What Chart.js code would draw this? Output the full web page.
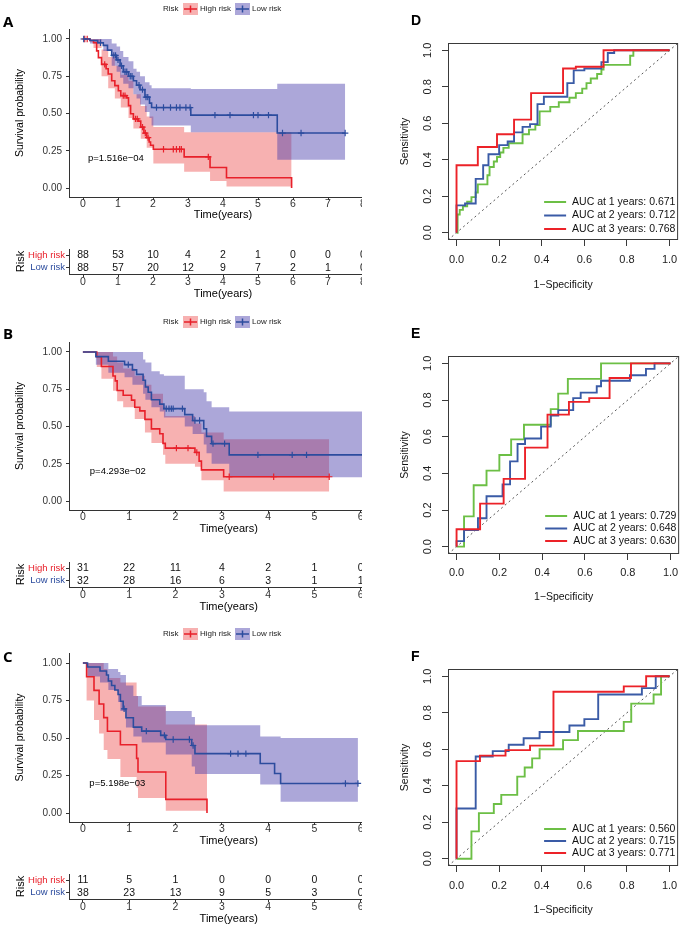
<!DOCTYPE html>
<html>
<head>
<meta charset="utf-8">
<script src="https://cdn.jsdelivr.net/npm/chart.js@4/dist/chart.umd.min.js"></script>
<style>
  body { margin: 0; background: #fff; width: 685px; height: 927px; position: relative; overflow: hidden; }
  .clip { position: absolute; left: 0; width: 362px; overflow: hidden; }
  .roc { position: absolute; left: 390px; }
  canvas { display: block; }
  .tag { position: absolute; font-weight: bold; color: #000; line-height: 1; }
  .tag.km { font: bold 15px 'Open Sans', 'DejaVu Sans', sans-serif; }
  .tag.rc { font: bold 14px 'Liberation Sans', Arial, sans-serif; }
</style>
</head>
<body>
<div class="clip" style="top:0;height:222px"><canvas id="kmA" width="400" height="222"></canvas></div>
<div class="clip" style="top:240px;height:61px"><canvas id="riskA" width="400" height="61"></canvas></div>
<div class="clip" style="top:310px;height:226px"><canvas id="kmB" width="400" height="226"></canvas></div>
<div class="clip" style="top:555px;height:59px"><canvas id="riskB" width="400" height="59"></canvas></div>
<div class="clip" style="top:620px;height:228px"><canvas id="kmC" width="400" height="228"></canvas></div>
<div class="clip" style="top:865px;height:61px"><canvas id="riskC" width="400" height="61"></canvas></div>
<div class="roc" style="top:0"><canvas id="rocD" width="295" height="300"></canvas></div>
<div class="roc" style="top:300px"><canvas id="rocE" width="295" height="310"></canvas></div>
<div class="roc" style="top:610px"><canvas id="rocF" width="295" height="317"></canvas></div>

<div class="tag km" style="left:3px;top:11px">A</div>
<div class="tag km" style="left:3px;top:323px">B</div>
<div class="tag km" style="left:3px;top:646px">C</div>
<div class="tag rc" style="left:411px;top:12px">D</div>
<div class="tag rc" style="left:411px;top:325px">E</div>
<div class="tag rc" style="left:411px;top:648px">F</div>

<script>
// ---- KM panel A ----
const A_HIGH_T = [0, 0.2, 0.3, 0.39, 0.44, 0.53, 0.66, 0.72, 0.82, 0.91, 1.01, 1.08, 1.25, 1.3, 1.36, 1.44, 1.58, 1.65, 1.74, 1.82, 1.89, 1.93, 2.01, 2.89, 3.63, 4.1, 5.96];
const A_HIGH_S = [1, 0.99, 0.975, 0.92, 0.875, 0.83, 0.8, 0.765, 0.72, 0.687, 0.653, 0.62, 0.605, 0.553, 0.498, 0.464, 0.449, 0.409, 0.369, 0.338, 0.309, 0.287, 0.26, 0.209, 0.138, 0.069, 0];
const A_HIGH_CENS = [0.05, 0.12, 0.62, 1.15, 1.2, 1.5, 1.55, 1.7, 1.78, 1.86, 2.3, 2.58, 2.67, 2.76, 2.81, 3.58];
const A_HIGH_BT = [0, 0.3, 0.53, 0.72, 0.91, 1.08, 1.3, 1.44, 1.65, 1.82, 2.01, 2.89, 3.63, 4.1, 5.96];
const A_HIGH_UP = [1, 1, 0.93, 0.88, 0.82, 0.76, 0.72, 0.63, 0.55, 0.48, 0.41, 0.375, 0.375, 0.375, 0.375];
const A_HIGH_LO = [1, 0.94, 0.75, 0.67, 0.6, 0.54, 0.47, 0.4, 0.33, 0.27, 0.165, 0.11, 0.047, 0.01, 0.01];

const A_LOW_T = [0, 0.2, 0.42, 0.58, 0.7, 0.82, 0.96, 1.06, 1.15, 1.3, 1.44, 1.53, 1.63, 1.77, 1.9, 1.96, 3.08, 5.55, 7.49];
const A_LOW_S = [1, 0.99, 0.975, 0.957, 0.925, 0.89, 0.86, 0.82, 0.78, 0.75, 0.72, 0.69, 0.66, 0.61, 0.57, 0.54, 0.489, 0.369, 0.369];
const A_LOW_CENS = [0.02, 0.5, 0.88, 0.93, 1.0, 1.1, 1.2, 1.25, 1.35, 1.4, 1.6, 1.7, 1.8, 1.85, 2.1, 2.3, 2.5, 2.67, 2.77, 2.94, 3.06, 3.77, 4.2, 4.87, 5.0, 5.3, 5.7, 6.23, 7.49];
const A_LOW_BT = [0, 0.2, 0.58, 0.82, 0.96, 1.06, 1.15, 1.3, 1.44, 1.53, 1.63, 1.77, 1.9, 1.96, 3.08, 5.55, 7.49];
const A_LOW_UP = [1, 1, 1, 0.97, 0.95, 0.92, 0.88, 0.85, 0.8, 0.78, 0.75, 0.71, 0.69, 0.67, 0.665, 0.7, 0.7];
const A_LOW_LO = [1, 0.97, 0.92, 0.82, 0.78, 0.74, 0.7, 0.67, 0.63, 0.6, 0.56, 0.51, 0.47, 0.42, 0.375, 0.19, 0.19];

// ---- KM panel B ----
const B_HIGH_T = [0, 0.3, 0.4, 0.65, 0.7, 0.74, 0.87, 1.05, 1.12, 1.23, 1.34, 1.48, 1.66, 1.73, 1.78, 2.42, 2.51, 2.56, 3.04, 5.32];
const B_HIGH_S = [1, 0.968, 0.903, 0.839, 0.806, 0.742, 0.71, 0.677, 0.629, 0.605, 0.548, 0.484, 0.452, 0.387, 0.355, 0.326, 0.268, 0.209, 0.163, 0.163];
const B_HIGH_CENS = [2.02, 2.27, 2.46, 3.16, 4.12, 5.32];
const B_HIGH_BT = [0, 0.3, 0.4, 0.65, 0.74, 0.87, 1.12, 1.34, 1.48, 1.73, 1.78, 2.42, 2.56, 3.04, 5.32];
const B_HIGH_UP = [1, 1, 1, 0.97, 0.93, 0.89, 0.84, 0.78, 0.72, 0.63, 0.57, 0.52, 0.46, 0.415, 0.415];
const B_HIGH_LO = [1, 0.9, 0.82, 0.74, 0.67, 0.63, 0.55, 0.46, 0.39, 0.31, 0.25, 0.23, 0.14, 0.064, 0.064];

const B_LOW_T = [0, 0.28, 0.55, 0.9, 1.07, 1.16, 1.3, 1.35, 1.41, 1.48, 1.66, 1.75, 2.2, 2.37, 2.61, 2.67, 2.78, 3.16, 6.4];
const B_LOW_S = [1, 0.969, 0.938, 0.915, 0.88, 0.85, 0.81, 0.765, 0.73, 0.68, 0.65, 0.62, 0.58, 0.54, 0.485, 0.434, 0.385, 0.31, 0.31];
const B_LOW_CENS = [0.98, 1.8, 1.86, 1.91, 1.95, 2.15, 2.42, 2.52, 2.81, 3.06, 3.78, 4.52, 4.83];
const B_LOW_BT = [0, 0.28, 0.55, 0.9, 1.07, 1.3, 1.35, 1.48, 1.66, 1.75, 2.2, 2.37, 2.61, 2.67, 2.78, 3.16, 6.4];
const B_LOW_UP = [1, 1, 1, 1, 1, 0.95, 0.93, 0.87, 0.85, 0.84, 0.75, 0.75, 0.73, 0.67, 0.63, 0.6, 0.6];
const B_LOW_LO = [1, 0.915, 0.86, 0.83, 0.78, 0.72, 0.68, 0.63, 0.6, 0.56, 0.5, 0.45, 0.38, 0.32, 0.25, 0.16, 0.16];

// ---- KM panel C ----
const C_HIGH_T = [0, 0.08, 0.24, 0.35, 0.45, 0.53, 0.81, 1.16, 1.19, 1.79, 2.68];
const C_HIGH_S = [1, 0.909, 0.818, 0.727, 0.636, 0.545, 0.455, 0.364, 0.273, 0.091, 0];
const C_HIGH_CENS = [];
const C_HIGH_BT = [0, 0.08, 0.24, 0.35, 0.45, 0.53, 0.81, 1.16, 1.19, 1.79, 2.68];
const C_HIGH_UP = [1, 1, 1, 1, 0.96, 0.9, 0.87, 0.78, 0.71, 0.59, 0.59];
const C_HIGH_LO = [1, 0.75, 0.62, 0.53, 0.42, 0.36, 0.24, 0.17, 0.1, 0.015, 0.015];

const C_LOW_T = [0, 0.1, 0.37, 0.51, 0.55, 0.62, 0.69, 0.76, 0.81, 0.87, 0.93, 1.09, 1.27, 1.68, 1.79, 2.35, 2.42, 3.83, 4.14, 4.27, 5.94];
const C_LOW_S = [1, 0.974, 0.947, 0.92, 0.88, 0.85, 0.82, 0.79, 0.745, 0.695, 0.635, 0.573, 0.546, 0.518, 0.49, 0.45, 0.396, 0.33, 0.263, 0.197, 0.197];
const C_LOW_CENS = [0.89, 1.37, 1.76, 1.95, 2.3, 2.38, 3.19, 3.35, 3.52, 5.67, 5.94];
const C_LOW_BT = [0, 0.1, 0.37, 0.55, 0.76, 0.81, 0.93, 1.09, 1.27, 1.79, 2.35, 2.42, 3.83, 4.27, 5.94];
const C_LOW_UP = [1, 1, 1, 0.96, 0.94, 0.92, 0.85, 0.78, 0.72, 0.68, 0.64, 0.585, 0.51, 0.5, 0.5];
const C_LOW_LO = [1, 0.91, 0.87, 0.82, 0.74, 0.68, 0.57, 0.51, 0.47, 0.39, 0.31, 0.26, 0.19, 0.075, 0.075];

// ---- number at risk ----
const RISK_ROWS = ['High risk', 'Low risk'];
const A_TICKS = [0, 1, 2, 3, 4, 5, 6, 7, 8];
const A_RISK_HIGH = [88, 53, 10, 4, 2, 1, 0, 0, 0];
const A_RISK_LOW = [88, 57, 20, 12, 9, 7, 2, 1, 0];
const BC_TICKS = [0, 1, 2, 3, 4, 5, 6];
const B_RISK_HIGH = [31, 22, 11, 4, 2, 1, 0];
const B_RISK_LOW = [32, 28, 16, 6, 3, 1, 1];
const C_RISK_HIGH = [11, 5, 1, 0, 0, 0, 0];
const C_RISK_LOW = [38, 23, 13, 9, 5, 3, 0];
const SURV_TICKS = [0, 0.25, 0.5, 0.75, 1];

// ---- ROC curves (1-specificity, sensitivity) ----
const D_FPR_1 = [0, 0.005, 0.015, 0.03, 0.05, 0.07, 0.09, 0.1, 0.145, 0.155, 0.175, 0.19, 0.205, 0.22, 0.245, 0.31, 0.34, 0.37, 0.39, 0.44, 0.48, 0.53, 0.56, 0.59, 0.61, 0.63, 0.66, 0.68, 0.69, 0.815, 0.83, 1];
const D_TPR_1 = [0, 0.1, 0.125, 0.145, 0.17, 0.195, 0.22, 0.265, 0.315, 0.36, 0.39, 0.415, 0.44, 0.465, 0.49, 0.54, 0.565, 0.59, 0.665, 0.69, 0.715, 0.74, 0.765, 0.79, 0.82, 0.845, 0.87, 0.895, 0.92, 0.97, 1, 1];
const D_FPR_2 = [0, 0, 0.04, 0.09, 0.125, 0.15, 0.2, 0.24, 0.27, 0.31, 0.345, 0.38, 0.41, 0.52, 0.55, 0.6, 0.68, 0.71, 0.74, 1];
const D_TPR_2 = [0, 0.15, 0.16, 0.295, 0.37, 0.43, 0.48, 0.5, 0.55, 0.58, 0.595, 0.705, 0.745, 0.82, 0.89, 0.9, 0.935, 0.985, 1, 1];
const D_FPR_3 = [0, 0, 0.1, 0.19, 0.27, 0.35, 0.5, 0.56, 0.69, 1];
const D_TPR_3 = [0, 0.37, 0.47, 0.54, 0.62, 0.765, 0.9, 0.91, 1, 1];
const D_AUC = ['AUC at 1 years: 0.671', 'AUC at 2 years: 0.712', 'AUC at 3 years: 0.768'];

const E_FPR_1 = [0, 0.035, 0.08, 0.14, 0.2, 0.255, 0.315, 0.44, 0.475, 0.52, 0.675, 1];
const E_TPR_1 = [0, 0.165, 0.335, 0.415, 0.5, 0.585, 0.665, 0.75, 0.835, 0.915, 1, 1];
const E_FPR_2 = [0, 0, 0.035, 0.1, 0.14, 0.215, 0.25, 0.285, 0.32, 0.395, 0.44, 0.475, 0.545, 0.58, 0.655, 0.675, 0.81, 0.885, 0.925, 1];
const E_TPR_2 = [0, 0.03, 0.09, 0.155, 0.275, 0.34, 0.465, 0.56, 0.59, 0.655, 0.715, 0.745, 0.81, 0.84, 0.875, 0.905, 0.935, 0.97, 1, 1];
const E_FPR_3 = [0, 0, 0.11, 0.22, 0.32, 0.425, 0.525, 0.62, 0.715, 0.815, 1];
const E_TPR_3 = [0, 0.095, 0.235, 0.37, 0.54, 0.72, 0.79, 0.81, 0.92, 1, 1];
const E_AUC = ['AUC at 1 years: 0.729', 'AUC at 2 years: 0.648', 'AUC at 3 years: 0.630'];

const F_FPR_1 = [0, 0.07, 0.105, 0.175, 0.21, 0.285, 0.32, 0.355, 0.39, 0.5, 0.57, 0.785, 0.82, 0.925, 0.96, 1];
const F_TPR_1 = [0, 0.15, 0.25, 0.3, 0.35, 0.45, 0.5, 0.55, 0.6, 0.65, 0.7, 0.75, 0.85, 0.9, 1, 1];
const F_FPR_2 = [0, 0, 0.09, 0.17, 0.245, 0.315, 0.39, 0.53, 0.6, 0.665, 0.87, 0.935, 1];
const F_TPR_2 = [0, 0.275, 0.56, 0.59, 0.625, 0.66, 0.695, 0.73, 0.765, 0.9, 0.935, 1, 1];
const F_FPR_3 = [0, 0, 0.11, 0.23, 0.345, 0.455, 0.785, 0.89, 1];
const F_TPR_3 = [0, 0.535, 0.565, 0.595, 0.62, 0.915, 0.945, 1, 1];
const F_AUC = ['AUC at 1 years: 0.560', 'AUC at 2 years: 0.715', 'AUC at 3 years: 0.771'];
const ROC_TICKS = [0, 0.2, 0.4, 0.6, 0.8, 1];

const RED = '#e8202a';
const BLUE = '#2c4c9e';
const RED_BAND = 'rgba(232, 40, 40, 0.36)';
const BLUE_BAND = 'rgba(70, 60, 170, 0.45)';
const ROC_COLORS = ['#6cbf45', '#3a5ba6', '#ec2228'];
const FONT = "'Liberation Sans', Arial, sans-serif";

Chart.defaults.font.family = FONT;
Chart.defaults.color = '#222';

const pts = (xs, ys) => xs.map((x, i) => ({ x, y: ys[i] }));
function stepAt(ts, ss, t) {
  let v = ss[0];
  for (let i = 0; i < ts.length; i++) if (ts[i] <= t) v = ss[i];
  return v;
}

const kmDecor = {
  id: 'kmDecor',
  afterDraw(chart, args, o) {
    const { ctx, scales: { x, y } } = chart;
    ctx.save();
    ctx.fillStyle = '#000';
    ctx.textBaseline = 'middle';
    ctx.font = '9.5px ' + FONT;
    ctx.fillText(o.pText, x.getPixelForValue(o.pX), y.getPixelForValue(o.pY));
    // legend
    const ly = o.legendY;
    ctx.font = '8px ' + FONT;
    ctx.fillStyle = '#222';
    ctx.fillText('Risk', 163, ly);
    const keys = [[183, RED_BAND, RED, 'High risk'], [235, BLUE_BAND, BLUE, 'Low risk']];
    keys.forEach(([kx, band, line, label]) => {
      ctx.fillStyle = band;
      ctx.fillRect(kx, ly - 6, 15, 12);
      ctx.strokeStyle = line;
      ctx.lineWidth = 1.5;
      ctx.beginPath();
      ctx.moveTo(kx + 1, ly); ctx.lineTo(kx + 14, ly);
      ctx.moveTo(kx + 7.5, ly - 3.5); ctx.lineTo(kx + 7.5, ly + 3.5);
      ctx.stroke();
      ctx.fillStyle = '#222';
      ctx.fillText(label, kx + 17, ly);
    });
    ctx.restore();
  }
};

function axisCommon() {
  return {
    grid: { display: true, drawOnChartArea: false, drawTicks: true, tickLength: 3, tickColor: '#333' },
    border: { display: true, color: '#333', width: 1 }
  };
}

function drawKM(id, o) {
  const datasets = [
    { data: pts(o.lowT, o.lowS), stepped: true, borderColor: BLUE, borderWidth: 1.6, pointRadius: 0, fill: false, order: 0 },
    { data: o.lowCens.map(t => ({ x: t, y: stepAt(o.lowT, o.lowS, t) })), showLine: false, pointStyle: 'cross', pointRadius: 3.2, borderColor: BLUE, borderWidth: 1.2, order: 0 },
    { data: pts(o.highT, o.highS), stepped: true, borderColor: RED, borderWidth: 1.6, pointRadius: 0, fill: false, order: 1 },
    { data: o.highCens.map(t => ({ x: t, y: stepAt(o.highT, o.highS, t) })), showLine: false, pointStyle: 'cross', pointRadius: 3.2, borderColor: RED, borderWidth: 1.2, order: 1 },
    { data: pts(o.lowBT, o.lowUp), stepped: true, borderWidth: 0, borderColor: 'transparent', pointRadius: 0, fill: false, order: 2 },
    { data: pts(o.lowBT, o.lowLo), stepped: true, borderWidth: 0, borderColor: 'transparent', pointRadius: 0, fill: '-1', backgroundColor: BLUE_BAND, order: 2 },
    { data: pts(o.highBT, o.highUp), stepped: true, borderWidth: 0, borderColor: 'transparent', pointRadius: 0, fill: false, order: 3 },
    { data: pts(o.highBT, o.highLo), stepped: true, borderWidth: 0, borderColor: 'transparent', pointRadius: 0, fill: '-1', backgroundColor: RED_BAND, order: 3 }
  ];
  new Chart(document.getElementById(id), {
    type: 'line',
    data: { datasets },
    plugins: [kmDecor],
    options: {
      responsive: false,
      animation: false,
      layout: { padding: { top: o.padTop, right: o.padRight, left: 0, bottom: 0 } },
      plugins: {
        legend: { display: false },
        tooltip: { enabled: false },
        kmDecor: { pText: o.pText, pX: o.pX, pY: 0.2, legendY: o.legendY }
      },
      scales: {
        x: {
          type: 'linear', min: o.xMin, max: o.xMax,
          afterBuildTicks: s => { s.ticks = o.ticks.map(v => ({ value: v })); },
          afterFit: s => { s.height = o.xH; },
          ticks: { font: { size: 10.5, lineHeight: 1 }, color: '#333', padding: -1.5, maxRotation: 0, autoSkip: false },
          title: { display: true, text: 'Time(years)', font: { size: 11 }, color: '#000', padding: 0 },
          ...axisCommon()
        },
        y: {
          type: 'linear', min: -0.06, max: 1.067,
          afterBuildTicks: s => { s.ticks = SURV_TICKS.map(v => ({ value: v })); },
          afterFit: s => { s.width = 69; },
          ticks: { font: { size: 10 }, color: '#333', padding: 4, autoSkip: false, callback: v => v.toFixed(2) },
          title: { display: true, text: 'Survival probability', font: { size: 10.5 }, color: '#000', padding: { top: 14, bottom: 0 } },
          ...axisCommon()
        }
      }
    }
  });
}

const riskNumbers = {
  id: 'riskNumbers',
  afterDraw(chart, args, o) {
    const { ctx, scales: { x, y } } = chart;
    ctx.save();
    ctx.font = '10.5px ' + FONT;
    ctx.fillStyle = '#111';
    ctx.textAlign = 'center';
    ctx.textBaseline = 'middle';
    [o.high, o.low].forEach((row, r) => {
      row.forEach((n, i) => ctx.fillText(String(n), x.getPixelForValue(o.ticks[i]), y.getPixelForValue(r)));
    });
    ctx.restore();
  }
};

function drawRisk(id, o) {
  new Chart(document.getElementById(id), {
    type: 'line',
    data: { datasets: [] },
    plugins: [riskNumbers],
    options: {
      responsive: false,
      animation: false,
      layout: { padding: { top: o.padTop, right: o.padRight, left: 0, bottom: 0 } },
      plugins: { legend: { display: false }, tooltip: { enabled: false }, riskNumbers: { high: o.high, low: o.low, ticks: o.ticks } },
      scales: {
        x: {
          type: 'linear', min: o.xMin, max: o.xMax,
          afterBuildTicks: s => { s.ticks = o.ticks.map(v => ({ value: v })); },
          afterFit: s => { s.height = 27; },
          ticks: { font: { size: 10.5, lineHeight: 1 }, color: '#333', padding: -0.5, maxRotation: 0, autoSkip: false },
          title: { display: true, text: 'Time(years)', font: { size: 11 }, color: '#000', padding: 0 },
          ...axisCommon()
        },
        y: {
          type: 'category', labels: RISK_ROWS, offset: true,
          afterFit: s => { s.width = 69; },
          ticks: { font: { size: 9.5, lineHeight: 1 }, padding: 1, autoSkip: false, color: c => (c.index === 0 ? RED : BLUE) },
          title: { display: true, text: 'Risk', font: { size: 11 }, color: '#000', padding: { top: 14, bottom: 0 } },
          ...axisCommon()
        }
      }
    }
  });
}

const rocDecor = {
  id: 'rocDecor',
  afterDraw(chart, args, o) {
    const { ctx, chartArea: a } = chart;
    ctx.save();
    ctx.strokeStyle = '#3a3a3a';
    ctx.lineWidth = 1;
    ctx.strokeRect(a.left + 0.5, a.top + 0.5, a.right - a.left - 1, a.bottom - a.top - 1);
    ctx.font = '10.5px ' + FONT;
    ctx.textBaseline = 'middle';
    const tx = a.right - 106;
    o.labels.forEach((lab, i) => {
      const yy = a.bottom - o.last - o.gap * (o.labels.length - 1 - i);
      ctx.strokeStyle = ROC_COLORS[i];
      ctx.lineWidth = 2;
      ctx.beginPath();
      ctx.moveTo(tx - 28, yy); ctx.lineTo(tx - 6, yy);
      ctx.stroke();
      ctx.fillStyle = '#111';
      ctx.fillText(lab, tx, yy);
    });
    ctx.restore();
  }
};

function drawROC(id, o) {
  const lines = o.curves.map((c, i) => ({
    data: pts(c[0], c[1]), stepped: true, borderColor: ROC_COLORS[i], borderWidth: 1.9,
    pointRadius: 0, fill: false, order: 3 - i
  }));
  lines.push({ data: pts([-0.04, 1.04], [-0.04, 1.04]), borderColor: '#555', borderWidth: 1, borderDash: [2, 3], pointRadius: 0, fill: false, order: 9 });
  const rocAxis = (title, isY) => ({
    type: 'linear', min: -0.04, max: 1.04,
    afterBuildTicks: s => { s.ticks = ROC_TICKS.map(v => ({ value: v })); },
    afterFit: s => { if (isY) s.width = 58; else s.height = o.xH; },
    ticks: Object.assign({ font: { size: 11 }, color: '#222', autoSkip: false, callback: v => v.toFixed(1) },
      isY ? { padding: 6, minRotation: 90, maxRotation: 90, crossAlign: 'center' } : { padding: o.tickPad, maxRotation: 0 }),
    title: { display: true, text: title, font: { size: 10.5 }, color: '#111', padding: isY ? { top: 8.5, bottom: 0 } : { top: 0, bottom: o.titlePad } },
    grid: { display: true, drawOnChartArea: false, drawTicks: true, tickLength: 6, tickColor: '#3a3a3a' },
    border: { display: false }
  });
  new Chart(document.getElementById(id), {
    type: 'line',
    data: { datasets: lines },
    plugins: [rocDecor],
    options: {
      responsive: false,
      animation: false,
      layout: { padding: { top: o.padTop, right: 2, left: 0, bottom: 0 } },
      plugins: { legend: { display: false }, tooltip: { enabled: false }, rocDecor: { labels: o.labels, gap: o.gap, last: o.last } },
      scales: { x: rocAxis('1\u2212Specificity', false), y: rocAxis('Sensitivity', true) }
    }
  });
}

drawKM('kmA', {
  highT: A_HIGH_T, highS: A_HIGH_S, highCens: A_HIGH_CENS, highBT: A_HIGH_BT, highUp: A_HIGH_UP, highLo: A_HIGH_LO,
  lowT: A_LOW_T, lowS: A_LOW_S, lowCens: A_LOW_CENS, lowBT: A_LOW_BT, lowUp: A_LOW_UP, lowLo: A_LOW_LO,
  xMin: -0.4, xMax: 8.4, ticks: A_TICKS, padTop: 29, padRight: 23, xH: 25,
  pText: 'p=1.516e\u221204', pX: 0.14, legendY: 9
});
drawRisk('riskA', { high: A_RISK_HIGH, low: A_RISK_LOW, ticks: A_TICKS, xMin: -0.4, xMax: 8.4, padTop: 9, padRight: 23 });

drawKM('kmB', {
  highT: B_HIGH_T, highS: B_HIGH_S, highCens: B_HIGH_CENS, highBT: B_HIGH_BT, highUp: B_HIGH_UP, highLo: B_HIGH_LO,
  lowT: B_LOW_T, lowS: B_LOW_S, lowCens: B_LOW_CENS, lowBT: B_LOW_BT, lowUp: B_LOW_UP, lowLo: B_LOW_LO,
  xMin: -0.3, xMax: 6.6, ticks: BC_TICKS, padTop: 32, padRight: 11.5, xH: 26,
  pText: 'p=4.293e\u221202', pX: 0.15, legendY: 12
});
drawRisk('riskB', { high: B_RISK_HIGH, low: B_RISK_LOW, ticks: BC_TICKS, xMin: -0.3, xMax: 6.6, padTop: 7, padRight: 11.5 });

drawKM('kmC', {
  highT: C_HIGH_T, highS: C_HIGH_S, highCens: C_HIGH_CENS, highBT: C_HIGH_BT, highUp: C_HIGH_UP, highLo: C_HIGH_LO,
  lowT: C_LOW_T, lowS: C_LOW_S, lowCens: C_LOW_CENS, lowBT: C_LOW_BT, lowUp: C_LOW_UP, lowLo: C_LOW_LO,
  xMin: -0.3, xMax: 6.6, ticks: BC_TICKS, padTop: 33, padRight: 11.5, xH: 26,
  pText: 'p=5.198e\u221203', pX: 0.14, legendY: 14
});
drawRisk('riskC', { high: C_RISK_HIGH, low: C_RISK_LOW, ticks: BC_TICKS, xMin: -0.3, xMax: 6.6, padTop: 9, padRight: 11.5 });

drawROC('rocD', { curves: [[D_FPR_1, D_TPR_1], [D_FPR_2, D_TPR_2], [D_FPR_3, D_TPR_3]], labels: D_AUC, padTop: 43, xH: 60, tickPad: 7.7, titlePad: 8.7, gap: 13.5, last: 11 });
drawROC('rocE', { curves: [[E_FPR_1, E_TPR_1], [E_FPR_2, E_TPR_2], [E_FPR_3, E_TPR_3]], labels: E_AUC, padTop: 56, xH: 56, tickPad: 6.7, titlePad: 6.7, gap: 12.5, last: 13 });
drawROC('rocF', { curves: [[F_FPR_1, F_TPR_1], [F_FPR_2, F_TPR_2], [F_FPR_3, F_TPR_3]], labels: F_AUC, padTop: 59, xH: 61, tickPad: 7.7, titlePad: 10.7, gap: 12, last: 13 });
</script>
</body>
</html>
